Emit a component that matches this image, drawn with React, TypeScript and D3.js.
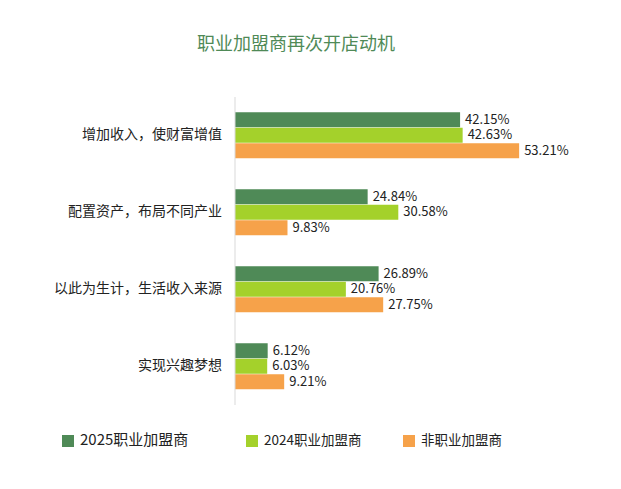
import React from 'react';
import * as d3 from 'd3';

const categories = ['增加收入，使财富增值', '配置资产，布局不同产业', '以此为生计，生活收入来源', '实现兴趣梦想'];
const seriesNames = ['2025职业加盟商', '2024职业加盟商', '非职业加盟商'];
const s2025 = [42.15, 24.84, 26.89, 6.12];
const s2024 = [42.63, 30.58, 20.76, 6.03];
const sNon = [53.21, 9.83, 27.75, 9.21];
const colors = ['#4f8a57', '#a4d12b', '#f6a24a'];

const App = () => {
  const width = 621;
  const height = 489;
  const left = 235;
  const series = [s2025, s2024, sNon];

  const x = d3.scaleLinear().domain([0, 10]).range([left, left + 53.4]);
  const y = d3.scaleBand().domain(categories).range([97, 405]).paddingInner(0);
  const barH = 15.5;
  const font = '"Noto Sans CJK SC", "Noto Sans", sans-serif';

  const legendX = [62, 246, 403];

  return (
    <svg width={width} height={height} style={{ position: 'absolute', left: 0, top: 0, fontFamily: font }}>
      <rect width={width} height={height} fill="#fff" />
      <text x={296} y={50} textAnchor="middle" fontSize={18} fill="#4f8a57">职业加盟商再次开店动机</text>
      {categories.map((c, i) => {
        const center = y(c)! + y.bandwidth() / 2;
        return (
          <g key={c}>
            <text x={222} y={center} textAnchor="end" dominantBaseline="middle" fontSize={14} fill="#222">{c}</text>
            {series.map((s, j) => {
              const by = center - (1.5 * barH) + j * barH;
              return (
                <g key={j}>
                  <rect x={left} y={by} width={x(s[i]) - left} height={barH - 0.5} fill={colors[j]} />
                  <text x={x(s[i]) + 5} y={by + barH / 2} dominantBaseline="middle" fontSize={13} fill="#222">
                    {s[i].toFixed(2)}%
                  </text>
                </g>
              );
            })}
          </g>
        );
      })}
      <line x1={left} x2={left} y1={97} y2={405} stroke="#d9d9d9" />
      {seriesNames.map((n, j) => (
        <g key={n}>
          <rect x={legendX[j]} y={435} width={12} height={12} fill={colors[j]} />
          <text x={legendX[j] + 18} y={441} dominantBaseline="middle" fontSize={j === 0 ? 15 : 13.5} fill="#222">{n}</text>
        </g>
      ))}
    </svg>
  );
};

export default App;
